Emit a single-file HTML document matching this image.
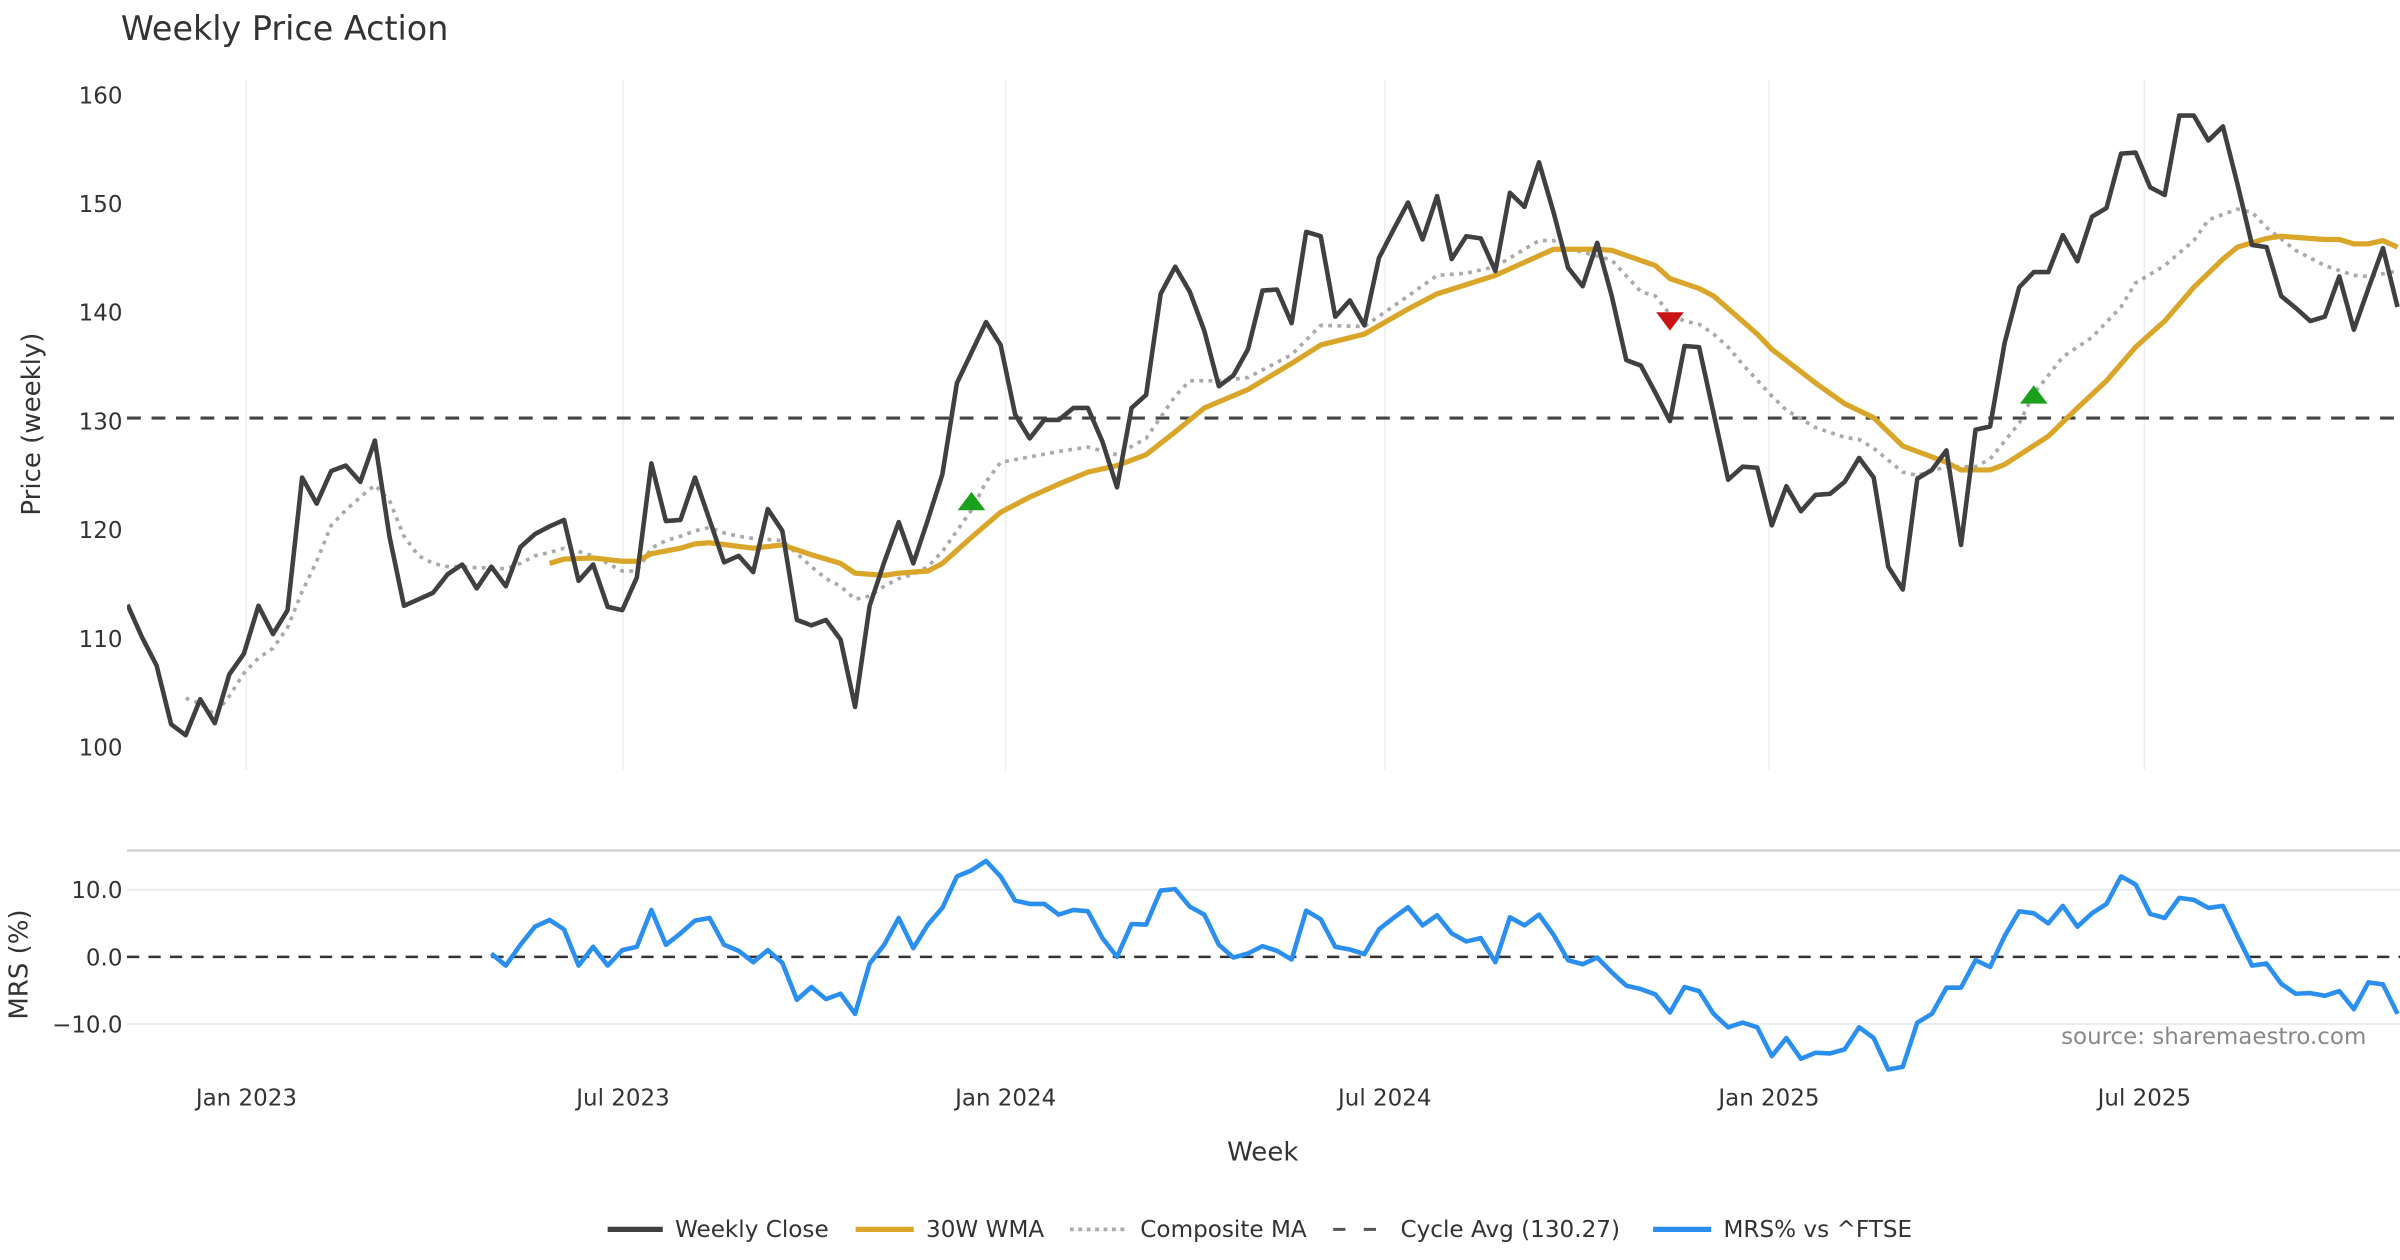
<!DOCTYPE html>
<html><head><meta charset="utf-8"><style>
html,body{margin:0;padding:0;background:#fff;}
svg{display:block;font-family:"DejaVu Sans","Liberation Sans",sans-serif;}
</style></head><body>
<svg id="chart" width="2400" height="1260" viewBox="0 0 1568 823" preserveAspectRatio="none" xmlns="http://www.w3.org/2000/svg">
<defs><clipPath id="clipTop"><rect x="83" y="40" width="1485" height="470"/></clipPath>
<clipPath id="clipBot"><rect x="83" y="556" width="1485" height="150"/></clipPath></defs>
<text x="79" y="26" font-size="21.8" fill="#333">Weekly Price Action</text>
<text transform="translate(26,277) rotate(-90)" text-anchor="middle" font-size="17" fill="#333">Price (weekly)</text>
<text transform="translate(18,630) rotate(-90)" text-anchor="middle" font-size="17" fill="#333">MRS (%)</text>
<text x="825" y="758" text-anchor="middle" font-size="17" fill="#333">Week</text>
<text x="1546" y="682" text-anchor="end" font-size="15" fill="#888">source: sharemaestro.com</text>
<line x1="83" x2="1568" y1="555.5" y2="555.5" stroke="#cccccc" stroke-width="1.3"/>
<g id="grid"></g><g id="marks"></g><g id="labels"></g>
<g font-size="15.1" fill="#333">
 <line x1="397" x2="433" y1="803" y2="803" stroke="#404040" stroke-width="3.5"/>
 <text x="441" y="808">Weekly Close</text>
 <line x1="559" x2="597" y1="803" y2="803" stroke="#d9a62a" stroke-width="3.5"/>
 <text x="605" y="808">30W WMA</text>
 <line x1="699" x2="735" y1="803" y2="803" stroke="#aaaaaa" stroke-width="2.5" stroke-dasharray="2.5,3"/>
 <text x="745" y="808">Composite MA</text>
 <line x1="871" x2="907" y1="803" y2="803" stroke="#555" stroke-width="2" stroke-dasharray="8,12"/>
 <text x="915" y="808">Cycle Avg (130.27)</text>
 <line x1="1080" x2="1118" y1="803" y2="803" stroke="#2b8ff0" stroke-width="3.5"/>
 <text x="1126" y="808">MRS% vs ^FTSE</text>
</g>
</svg>
<script>
const closeValues = [113.1,110.1,107.5,102.1,101.1,104.4,102.2,106.7,108.6,113.0,110.4,112.6,124.8,122.4,125.4,125.9,124.4,128.2,119.4,113.0,113.6,114.2,115.9,116.8,114.6,116.6,114.8,118.4,119.6,120.3,120.9,115.3,116.8,112.9,112.6,115.6,126.1,120.8,120.9,124.8,120.9,117.0,117.6,116.1,121.9,119.9,111.7,111.2,111.7,109.9,103.7,113.0,117.0,120.7,116.9,120.9,125.1,133.5,136.3,139.1,
137.0,130.6,128.4,130.1,130.1,131.2,131.2,128.1,123.9,131.2,132.4,141.7,144.2,141.9,138.3,133.2,134.2,136.6,142.0,142.1,139.0,147.4,147.0,139.6,141.1,138.8,145.0,147.6,150.1,146.7,150.7,144.9,147.0,146.8,143.8,151.0,149.7,153.8,149.2,144.1,142.4,146.4,141.5,135.6,135.1,132.6,130.0,136.9,
136.8,130.7,124.6,125.8,125.7,120.4,124.0,121.7,123.2,123.3,124.4,126.6,124.8,116.6,114.5,124.7,125.5,127.3,118.6,129.2,129.5,137.2,142.3,143.7,143.7,147.1,144.7,148.8,149.6,154.6,154.7,151.5,150.8,158.1,158.1,155.8,157.1,151.8,146.2,146.0,141.5,140.4,139.2,139.6,143.3,138.4,142.2,145.9,140.5];
const wmaWeeks = [29,30,32,34,35,36,38,39,40,43,45,47,49,50,52,53,55,56,58,60,62,64,66,68,70,72,74,77,80,82,85,88,90,94,97,98,101,102,105,106,108,109,112,113,116,118,120,122,125,126,128,129,132,134,136,138,140,142,144,145,147,148,151,152,153,154,155,156];
const wmaValues = [116.9,117.3,117.4,117.1,117.1,117.8,118.3,118.7,118.8,118.3,118.6,117.7,116.9,116.0,115.8,116.0,116.2,116.9,119.3,121.6,123.0,124.2,125.3,125.9,126.9,129.0,131.2,132.9,135.3,137.0,138.0,140.3,141.7,143.4,145.2,145.8,145.8,145.7,144.3,143.1,142.2,141.5,138.0,136.6,133.5,131.6,130.3,127.7,126.2,125.5,125.5,126.0,128.6,131.2,133.7,136.8,139.2,142.3,144.9,146.0,146.8,147.0,146.7,146.7,146.3,146.3,146.6,146.0];
const compWeeks = [4,5,6,7,8,9,10,11,12,13,14,15,16,17,18,19,20,21,22,23,24,25,26,27,28,29,30,31,32,33,34,35,36,37,38,39,40,41,42,43,44,45,46,47,48,49,50,51,52,53,54,55,56,57,58,59,60,62,64,66,68,70,72,73,75,77,79,80,82,85,88,90,92,94,97,98,99,102,104,105,106,107,108,109,110,111,113,114,116,118,119,120,122,123,125,127,128,130,131,133,135,137,138,140,142,143,145,146,147,149,151,153,154,156];
const compValues = [104.5,104.0,103.0,104.7,106.8,108.2,109.1,111.0,114.3,117.1,120.4,121.8,123.0,124.1,122.7,119.4,117.6,116.9,116.6,116.6,116.5,116.5,116.4,116.9,117.6,117.9,118.3,118.0,117.6,116.9,116.2,116.2,118.3,119.0,119.4,119.9,120.2,119.7,119.4,119.2,119.1,119.0,117.8,116.6,115.5,114.8,113.6,113.9,114.8,115.5,115.9,116.6,118.0,119.9,121.8,124.4,126.2,126.7,127.2,127.6,126.9,128.4,132.3,133.7,133.7,134.0,135.4,136.1,138.8,138.7,141.5,143.4,143.6,144.2,146.6,146.6,145.9,144.8,141.9,141.5,139.8,139.2,138.9,138.0,136.8,135.2,132.3,131.0,129.4,128.5,128.3,127.5,125.3,125.0,125.8,125.8,126.5,129.8,132.5,135.9,137.7,140.5,142.7,144.3,146.6,148.5,149.5,149.2,147.8,145.7,144.3,143.4,143.3,143.8];
const mrsStart = 25;
const mrsValues = [0.5,-1.3,1.8,4.5,5.5,4.1,-1.3,1.5,-1.3,1.0,1.5,7.0,1.8,3.5,5.4,5.8,1.8,0.9,-0.8,1.0,-0.9,-6.4,-4.5,-6.3,-5.5,-8.5,-1.0,1.8,5.8,1.3,4.8,7.3,12.0,12.9,14.3,12.0,8.4,7.9,7.9,6.3,7.0,6.8,2.8,0.0,4.9,4.8,9.9,10.1,7.5,
6.3,1.8,-0.1,0.5,1.6,0.9,-0.4,6.9,5.6,1.5,1.1,0.4,4.1,5.8,7.4,4.7,6.2,3.5,2.3,2.8,-0.8,5.9,4.7,6.3,3.3,-0.5,-1.1,-0.1,-2.3,-4.3,-4.8,-5.6,-8.3,-4.5,-5.1,-8.5,-10.5,-9.8,-10.5,-14.8,-12.1,-15.2,-14.3,-14.4,-13.8,-10.5,-12.1,-16.8,-16.4,-9.8,-8.5,-4.6,-4.6,-0.5,-1.5,3.1,6.8,6.5,5.0,7.6,4.5,6.5,7.9,12.0,10.8,6.4,5.8,8.8,8.5,7.3,7.6,3.1,-1.3,-1.0,-4.0,-5.5,-5.4,-5.8,-5.1,-7.8,-3.8,-4.1,-8.5];
const cycleAvg = 130.27;
const buyWeeks = [58,131];
const buyValues = [122.5,132.3];
const sellWeeks = [106];
const sellValues = [139.3];
const priceTicks = [100,110,120,130,140,150,160];
const mrsTicks = [-10,0,10];
const mrsTickLabels = ["\u221210.0","0.0","10.0"];
const dateTickWeeks = [8.17,34.05,60.35,86.4,112.8,138.6];
const dateTickLabels = ["Jan 2023","Jul 2023","Jan 2024","Jul 2024","Jan 2025","Jul 2025"];

const NS="http://www.w3.org/2000/svg";
const X0=83.3, WK=9.507, PLEFT=83, PRIGHT=1568;
function xs(w){return X0+w*WK;}
function yp(v){return 62+(160-v)*7.1;}
function ym(v){return 625-v*4.38;}
function mk(tag,attrs,parent){const e=document.createElementNS(NS,tag);for(const k in attrs)e.setAttribute(k,attrs[k]);parent.appendChild(e);return e;}
const grid=document.getElementById('grid'),marks=document.getElementById('marks'),labels=document.getElementById('labels');

dateTickWeeks.forEach((w,i)=>{
  const l=mk('line',{x1:xs(w),x2:xs(w),y1:52,y2:503,stroke:'#eceef2','stroke-width':1},grid);
  
  
  const t=mk('text',{x:xs(w),y:722,'text-anchor':'middle','font-size':15,fill:'#333'},labels);
  t.textContent=dateTickLabels[i];
  
  
});
priceTicks.forEach(v=>{
  const t=mk('text',{x:80,y:yp(v)+5.5,'text-anchor':'end','font-size':15,fill:'#333'},labels);
  t.textContent=String(v);
  
  
});
mrsTicks.forEach((v,i)=>{
  if(v!==0){const g=mk('line',{x1:PLEFT,x2:PRIGHT,y1:ym(v),y2:ym(v),stroke:'#e8ebef','stroke-width':1.2},grid);
  
  }
  const t=mk('text',{x:80,y:ym(v)+5.5,'text-anchor':'end','font-size':15,fill:'#333'},labels);
  t.textContent=mrsTickLabels[i];
  
  
});
function poly(xsArr,ysArr,attrs,name,clip){
  const pts=xsArr.map((x,i)=>x.toFixed(2)+','+ysArr[i].toFixed(2)).join(' ');
  const p=mk('polyline',Object.assign({points:pts,fill:'none','stroke-linejoin':'round','clip-path':clip},attrs),marks);
  
  
  return p;
}
const cyc=mk('line',{x1:PLEFT,x2:PRIGHT,y1:yp(cycleAvg),y2:yp(cycleAvg),stroke:'#444','stroke-width':2,'stroke-dasharray':'9,7'},marks);


poly(compWeeks.map(xs),compValues.map(yp),{stroke:'#aaaaaa','stroke-width':2.4,'stroke-dasharray':'2.5,3.5'},'composite-ma-line','url(#clipTop)');
poly(wmaWeeks.map(xs),wmaValues.map(yp),{stroke:'#d9a62a','stroke-width':3.4},'wma-30w-line','url(#clipTop)');
poly(closeValues.map((v,i)=>xs(i)),closeValues.map(yp),{stroke:'#404040','stroke-width':3},'weekly-close-line','url(#clipTop)');
buyWeeks.forEach((w,i)=>{
  const x=xs(w),y=yp(buyValues[i]);
  const t=mk('polygon',{points:`${x-9},${y+5} ${x+9},${y+5} ${x},${y-7}`,fill:'#1aa01a'},marks);
  
  
});
sellWeeks.forEach((w,i)=>{
  const x=xs(w),y=yp(sellValues[i]);
  const t=mk('polygon',{points:`${x-9},${y-5} ${x+9},${y-5} ${x},${y+7}`,fill:'#c81414'},marks);
  
  
});
const z=mk('line',{x1:PLEFT,x2:PRIGHT,y1:ym(0),y2:ym(0),stroke:'#333','stroke-width':1.6,'stroke-dasharray':'8,6'},marks);


poly(mrsValues.map((v,i)=>xs(mrsStart+i)),mrsValues.map(ym),{stroke:'#2b8ff0','stroke-width':3},'mrs-line','url(#clipBot)');
</script>
</body></html>
